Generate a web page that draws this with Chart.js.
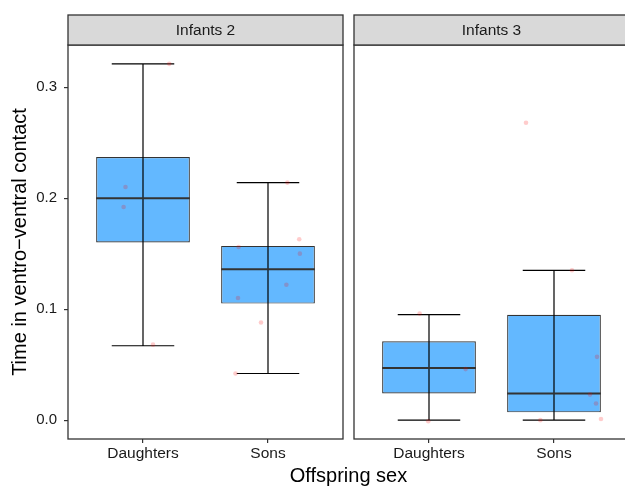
<!DOCTYPE html>
<html>
<head>
<meta charset="utf-8">
<script src="https://cdn.jsdelivr.net/npm/chart.js@4.4.1/dist/chart.umd.min.js"></script>
<style>
  html, body { margin: 0; padding: 0; background: #fff; overflow: hidden; }
</style>
</head>
<body>
<canvas id="box" width="640" height="486"></canvas>
<script>
const panelNames = ["Infants 2", "Infants 3"];
const categories = ["Daughters", "Sons"];

// one entry per box: Infants 2 Daughters, Infants 2 Sons, Infants 3 Daughters, Infants 3 Sons
const boxPanel = [0, 0, 1, 1];
const boxCategory = [0, 1, 0, 1];
const whiskerLow = [0.067, 0.042, 0.000, 0.000];
const quartileLow = [0.160, 0.105, 0.024, 0.007];
const medians = [0.200, 0.136, 0.047, 0.024];
const quartileHigh = [0.237, 0.157, 0.071, 0.095];
const whiskerHigh = [0.321, 0.214, 0.095, 0.135];

// raw observations (jittered): box index, horizontal jitter, value
const pointBox = [0, 0, 0, 0, 1, 1, 1, 1, 1, 1, 1, 1, 2, 2, 2, 3, 3, 3, 3, 3, 3, 3];
const pointJitter = [0.21, -0.14, -0.155, 0.08, 0.155, 0.25, -0.235, 0.255, 0.147, -0.24, -0.056, -0.26,
  -0.075, 0.293, -0.006, -0.224, 0.144, 0.344, 0.288, 0.336, 0.376, -0.109];
const pointValue = [0.321, 0.210, 0.192, 0.068, 0.214, 0.163, 0.156, 0.150, 0.122, 0.110, 0.088, 0.042,
  0.096, 0.046, -0.001, 0.268, 0.135, 0.057, 0.023, 0.015, 0.001, 0.000];

const yTicks = [0, 0.1, 0.2, 0.3];

// facet layout in x units: each panel spans category -0.6 .. 1.6, small gap between
const panelStep = 2.288;
const boxX = boxPanel.map((p, i) => p * panelStep + boxCategory[i]);
const tickX = [0, 1, panelStep, panelStep + 1];
const capHalf = 0.25;

const fontFamily = "'Liberation Sans', Arial, Helvetica, sans-serif";

const facetPlugin = {
  id: "facets",
  afterDatasetDraw(chart, args) {
    if (args.index !== 1) return;
    const x = chart.scales.x, y = chart.scales.y, ctx = chart.ctx;
    ctx.save();
    boxX.forEach((bx, i) => {
      const cx = x.getPixelForValue(bx);
      const l = x.getPixelForValue(bx - capHalf);
      const r = x.getPixelForValue(bx + capHalf);
      const lo = y.getPixelForValue(whiskerLow[i]);
      const hi = y.getPixelForValue(whiskerHigh[i]);
      ctx.strokeStyle = "#000";
      ctx.lineWidth = 1.2;
      ctx.beginPath();
      ctx.moveTo(cx, lo); ctx.lineTo(cx, hi);
      ctx.moveTo(l, lo); ctx.lineTo(r, lo);
      ctx.moveTo(l, hi); ctx.lineTo(r, hi);
      ctx.stroke();
      const bl = x.getPixelForValue(bx - 0.375);
      const br = x.getPixelForValue(bx + 0.375);
      const my = y.getPixelForValue(medians[i]);
      ctx.strokeStyle = "#333";
      ctx.lineWidth = 2;
      ctx.beginPath();
      ctx.moveTo(bl, my); ctx.lineTo(br, my);
      ctx.stroke();
    });
    ctx.restore();
  },
  afterDraw(chart) {
    const x = chart.scales.x, ctx = chart.ctx, area = chart.chartArea;
    ctx.save();
    panelNames.forEach((name, p) => {
      const l = x.getPixelForValue(p * panelStep - 0.6);
      const r = x.getPixelForValue(p * panelStep + 1.6);
      ctx.lineWidth = 1.3;
      ctx.strokeStyle = "#333";
      ctx.strokeRect(l, area.top, r - l, area.bottom - area.top);
      ctx.fillStyle = "#d9d9d9";
      ctx.fillRect(l, 15, r - l, area.top - 15);
      ctx.strokeRect(l, 15, r - l, area.top - 15);
      ctx.fillStyle = "#1a1a1a";
      ctx.font = "15.5px " + fontFamily;
      ctx.textAlign = "center";
      ctx.textBaseline = "middle";
      ctx.fillText(name, (l + r) / 2, (15 + area.top) / 2 + 1);
    });
    ctx.restore();
  }
};

new Chart(document.getElementById("box"), {
  type: "bar",
  data: {
    datasets: [
      {
        type: "scatter",
        data: pointValue.map((v, i) => ({ x: boxX[pointBox[i]] + pointJitter[i], y: v })),
        backgroundColor: "rgba(255, 0, 0, 0.2)",
        borderWidth: 0,
        pointRadius: 2.3,
        order: 0,
      },
      {
        type: "bar",
        data: boxX.map((bx, i) => ({ x: bx, y: [quartileLow[i], quartileHigh[i]] })),
        backgroundColor: "#63b8ff",
        borderColor: "#333",
        borderWidth: 1.2,
        borderSkipped: false,
        barPercentage: 0.75,
        categoryPercentage: 1,
        grouped: false,
        order: 1,
      },
    ],
  },
  options: {
    responsive: false,
    animation: false,
    layout: { padding: { top: 45, left: 0, right: 11, bottom: 0 } },
    plugins: {
      legend: { display: false },
      tooltip: { enabled: false },
    },
    scales: {
      x: {
        type: "linear",
        min: -0.6,
        max: panelStep + 1.6,
        offset: false,
        afterBuildTicks: (s) => { s.ticks = tickX.map((v) => ({ value: v })); },
        afterFit: (s) => { s.height = 47; },
        grid: { display: true, drawOnChartArea: false, drawTicks: true, tickLength: 4, color: "#333", lineWidth: 1.2, offset: false },
        border: { display: false },
        ticks: {
          autoSkip: false,
          maxRotation: 0,
          padding: 1,
          color: "#1a1a1a",
          font: { family: fontFamily, size: 15.5 },
          callback: (v, i) => categories[i % 2],
        },
        title: {
          display: true,
          text: "Offspring sex",
          color: "#000",
          font: { family: fontFamily, size: 20, lineHeight: 1 },
          padding: { top: 0, bottom: 0 },
        },
      },
      y: {
        min: -0.017,
        max: 0.338,
        afterBuildTicks: (s) => { s.ticks = yTicks.map((v) => ({ value: v })); },
        afterFit: (s) => { s.width = 68; },
        grid: { display: true, drawOnChartArea: false, drawTicks: true, tickLength: 4, color: "#333", lineWidth: 1.2 },
        border: { display: false },
        ticks: {
          padding: 7,
          color: "#1a1a1a",
          font: { family: fontFamily, size: 15 },
          callback: (v) => v.toFixed(1),
        },
        title: {
          display: true,
          text: "Time in ventro\u2212ventral contact",
          color: "#000",
          font: { family: fontFamily, size: 20, lineHeight: 1 },
          padding: { top: 10, bottom: 0 },
        },
      },
    },
  },
  plugins: [facetPlugin],
});
</script>
</body>
</html>
